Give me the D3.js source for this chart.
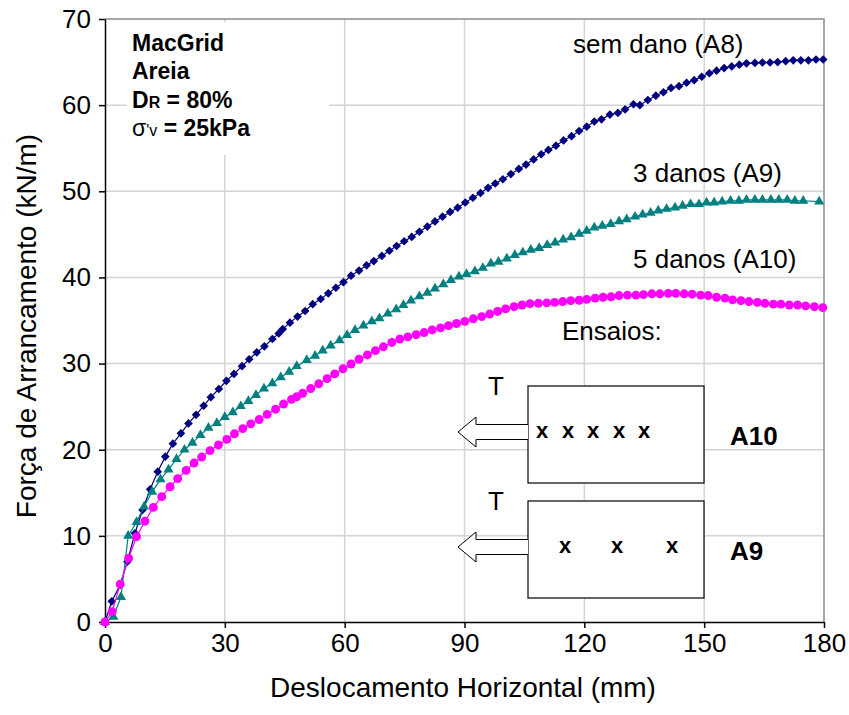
<!DOCTYPE html>
<html>
<head>
<meta charset="utf-8">
<script src="https://cdn.jsdelivr.net/npm/d3@7"></script>
<style>
  body { margin: 0; background: #fff; }
  svg { font-family: "Liberation Sans", Arial, sans-serif; }
</style>
</head>
<body>
<script>
// eixos
const xTicks = [0, 30, 60, 90, 120, 150, 180];
const yTicks = [0, 10, 20, 30, 40, 50, 60, 70];

// [deslocamento (mm), forca (kN/m)]
const semDano = [[0,0],[1.7,2.4],[3.8,4.3],[5.6,7.0],[7.5,10.3],[9.4,13.0],[11.3,15.4],[13.2,17.45],[15.1,19.2],[17.0,20.7],
  [19.0,21.9],[20.9,23.05],[22.8,24.05],[24.7,25.1],[26.5,26.1],[28.5,27.05],[30.4,28.0],[32.3,28.8],[34.3,29.7],[36.1,30.5],
  [38.0,31.3],[39.9,32.0],[41.9,32.85],[43.5,33.5],[44.5,34.0],[46.3,34.75],[48.2,35.45],[50.1,36.1],[52.0,36.9],[54.0,37.5],
  [55.9,38.15],[57.8,38.8],[59.7,39.45],[61.6,40.2],[63.6,40.8],[65.5,41.4],[67.3,41.9],[69.3,42.5],[71.2,43.1],[73.0,43.65],
  [74.9,44.2],[76.8,44.7],[78.7,45.3],[80.7,45.9],[82.6,46.5],[84.5,47.05],[86.4,47.6],[88.3,48.1],[90.2,48.7],[92.1,49.25],
  [94.0,49.8],[95.9,50.4],[97.7,50.9],[99.6,51.4],[101.6,52.0],[103.6,52.6],[105.4,53.1],[107.3,53.7],[109.2,54.3],[111.0,54.8],
  [112.9,55.3],[114.8,55.9],[116.8,56.4],[118.7,57.0],[120.6,57.5],[122.5,58.1],[124.3,58.35],[126.4,58.9],[128.4,59.1],[130.2,59.5],
  [132.3,60.1],[133.9,60.0],[135.9,60.6],[137.9,61.1],[139.8,61.5],[141.7,62.0],[143.7,62.2],[145.6,62.6],[147.5,62.9],[149.4,63.3],
  [151.3,63.7],[153.1,64.0],[155.0,64.3],[156.9,64.5],[158.8,64.7],[160.6,64.85],[162.7,64.9],[164.6,64.95],[166.5,64.95],[168.4,65.0],
  [170.4,65.1],[172.3,65.2],[174.2,65.2],[176.1,65.2],[178.0,65.3],[179.8,65.3]];

const tresDanos = [[0,0],[2.1,0.6],[4.0,2.9],[5.8,10.0],[7.9,11.6],[9.8,13.4],[11.8,15.1],[13.9,16.55],[15.9,17.7],[17.9,18.9],
  [19.9,20.0],[21.9,20.8],[23.9,21.7],[25.9,22.55],[28.0,23.1],[30.0,23.8],[32.0,24.35],[34.0,25.05],[35.9,25.65],[37.8,26.35],
  [39.8,27.1],[41.9,27.7],[44.0,28.4],[46.1,29.05],[48.0,29.7],[50.5,30.4],[52.6,30.9],[54.5,31.5],[56.5,32.1],[58.7,32.7],
  [60.6,33.3],[62.6,33.9],[64.7,34.4],[66.8,34.9],[68.7,35.25],[70.8,35.8],[72.9,36.3],[74.7,36.8],[76.6,37.3],[78.7,37.8],
  [80.7,38.2],[82.6,38.7],[84.7,39.2],[86.6,39.7],[88.6,40.1],[90.5,40.4],[92.6,40.7],[94.6,41.1],[96.6,41.6],[98.5,41.8],
  [100.6,42.2],[102.6,42.6],[104.6,42.9],[106.6,43.2],[108.7,43.4],[110.7,43.75],[112.7,44.05],[114.7,44.4],[116.7,44.65],[118.7,45.05],
  [120.6,45.4],[122.5,45.8],[124.5,46.0],[126.6,46.2],[128.7,46.5],[130.6,46.75],[132.7,47.05],[134.6,47.3],[136.6,47.5],[138.5,47.75],
  [140.6,47.95],[142.7,48.1],[144.6,48.3],[146.6,48.5],[148.7,48.5],[150.6,48.7],[152.5,48.7],[154.5,48.8],[156.6,48.9],[158.7,48.9],
  [160.6,49.0],[162.7,49.0],[164.6,49.0],[166.7,49.0],[168.7,49.0],[170.8,49.0],[172.7,48.9],[174.8,48.9],[178.8,48.8]];

const cincoDanos = [[0,0],[1.8,1.2],[3.8,4.4],[5.9,7.4],[7.9,9.9],[10.0,11.7],[12.1,13.3],[14.2,14.55],[16.3,15.7],[18.2,16.65],
  [20.3,17.6],[22.3,18.45],[24.2,19.15],[26.3,19.9],[28.4,20.55],[30.5,21.2],[32.4,21.85],[34.5,22.45],[36.5,23.0],[38.6,23.5],
  [40.6,24.1],[42.7,24.7],[44.7,25.3],[46.7,25.85],[48.0,26.15],[49.5,26.55],[51.5,27.1],[53.5,27.65],[55.6,28.25],[57.5,28.8],
  [59.6,29.4],[61.6,29.95],[63.6,30.5],[65.7,31.0],[67.7,31.5],[69.7,31.95],[71.8,32.45],[73.8,32.85],[75.8,33.1],[77.9,33.35],
  [79.9,33.6],[81.9,33.9],[84.0,34.15],[86.0,34.4],[88.0,34.65],[90.1,34.9],[92.2,35.2],[94.3,35.45],[96.3,35.75],[98.3,36.05],
  [100.3,36.35],[102.4,36.6],[104.4,36.8],[106.4,36.95],[108.5,37.0],[110.6,37.05],[112.6,37.1],[114.6,37.2],[116.6,37.3],[118.7,37.35],
  [120.6,37.45],[122.7,37.6],[124.7,37.7],[126.7,37.75],[128.7,37.9],[130.8,37.95],[132.9,37.95],[134.8,38.0],[136.9,38.1],[138.9,38.1],
  [141.0,38.15],[142.9,38.15],[145.0,38.1],[147.0,38.05],[149.1,37.95],[151.0,37.9],[153.1,37.7],[155.2,37.6],[157.1,37.4],[159.2,37.3],
  [161.2,37.2],[163.3,37.1],[165.2,37.0],[167.3,36.9],[169.2,36.9],[171.3,36.8],[173.4,36.8],[175.4,36.7],[177.6,36.6],[179.7,36.5]];

const W = 849, H = 715;
const plot = { left: 105, right: 824, top: 19, bottom: 622 };

const svg = d3.select("body").append("svg")
    .attr("width", W)
    .attr("height", H);

const xScale = d3.scaleLinear().domain([0, 180]).range([plot.left, plot.right]);
const yScale = d3.scaleLinear().domain([0, 70]).range([plot.bottom, plot.top]);

// grade
svg.append("g").selectAll("line")
    .data(xTicks.slice(1, -1))
    .join("line")
    .attr("x1", d => xScale(d)).attr("x2", d => xScale(d))
    .attr("y1", plot.top).attr("y2", plot.bottom)
    .attr("stroke", "#d4d4d4").attr("stroke-width", 1.5);
svg.append("g").selectAll("line")
    .data(yTicks.slice(1, -1))
    .join("line")
    .attr("x1", plot.left).attr("x2", plot.right)
    .attr("y1", d => yScale(d)).attr("y2", d => yScale(d))
    .attr("stroke", "#d4d4d4").attr("stroke-width", 1.5);

// borda superior / direita
svg.append("path")
    .attr("d", `M${plot.left},${plot.top}H${plot.right}V${plot.bottom}`)
    .attr("fill", "none")
    .attr("stroke", "#8c8c8c")
    .attr("stroke-width", 1.5);

// caixa de texto (fundo branco por cima da grade)
svg.append("rect")
    .attr("x", 127).attr("y", 22)
    .attr("width", 202).attr("height", 133)
    .attr("fill", "#fff");

// eixos
const xAxis = d3.axisBottom(xScale).tickValues(xTicks).tickSize(6).tickSizeOuter(0).tickPadding(6);
const yAxis = d3.axisLeft(yScale).tickValues(yTicks).tickSize(6).tickSizeOuter(0).tickPadding(8);

const gx = svg.append("g")
    .attr("transform", "translate(0," + plot.bottom + ")")
    .call(xAxis);
const gy = svg.append("g")
    .attr("transform", "translate(" + plot.left + ",0)")
    .call(yAxis);

[gx, gy].forEach(g => {
    g.select(".domain").attr("stroke", "#000").attr("stroke-width", 1.5);
    g.selectAll(".tick line").attr("stroke", "#000").attr("stroke-width", 1.5);
    g.selectAll(".tick text")
        .attr("fill", "#000")
        .attr("font-size", "26px")
        .attr("font-family", "Liberation Sans, Arial, sans-serif");
});

// titulos dos eixos
svg.append("text")
    .attr("x", 463).attr("y", 697)
    .attr("text-anchor", "middle")
    .attr("font-size", "28px")
    .text("Deslocamento Horizontal (mm)");
svg.append("text")
    .attr("transform", "translate(36,326) rotate(-90)")
    .attr("text-anchor", "middle")
    .attr("font-size", "28px")
    .text("Força de Arrancamento (kN/m)");

// series
const line = d3.line().x(d => xScale(d[0])).y(d => yScale(d[1]));

function drawSeries(data, color, shape, size) {
    svg.append("path")
        .datum(data)
        .attr("d", line)
        .attr("fill", "none")
        .attr("stroke", color)
        .attr("stroke-width", 1.2);
    svg.append("g").selectAll("path")
        .data(data)
        .join("path")
        .attr("transform", d => "translate(" + xScale(d[0]) + "," + yScale(d[1]) + ")")
        .attr("d", d3.symbol().type(shape).size(size))
        .attr("fill", color);
}

drawSeries(semDano, "#000080", d3.symbolDiamond2, 48);
drawSeries(tresDanos, "#008080", d3.symbolTriangle, 44);
drawSeries(cincoDanos, "#ff00ff", d3.symbolCircle, 62);

// rotulos das curvas
const labels = [
    { text: "sem dano (A8)", x: 573, y: 53 },
    { text: "3 danos (A9)", x: 633, y: 182 },
    { text: "5 danos (A10)", x: 633, y: 268 },
    { text: "Ensaios:", x: 562, y: 340 }
];
svg.append("g").selectAll("text")
    .data(labels)
    .join("text")
    .attr("x", d => d.x).attr("y", d => d.y)
    .attr("font-size", "26px")
    .text(d => d.text);

// caixa de informacoes
const info = svg.append("g").attr("font-size", "23px").attr("font-weight", "bold");
info.append("text").attr("x", 132).attr("y", 51).text("MacGrid");
info.append("text").attr("x", 132).attr("y", 79).text("Areia");
const dr = info.append("text").attr("x", 132).attr("y", 108);
dr.append("tspan").text("D");
dr.append("tspan").attr("font-size", "16px").text("R");
dr.append("tspan").text(" = 80%");
const sv = info.append("text").attr("x", 132).attr("y", 136);
sv.append("tspan").attr("font-weight", "normal").text("σ");
sv.append("tspan").attr("font-weight", "normal").attr("font-size", "16px").text("'v");
sv.append("tspan").text(" = 25kPa");

// esquema dos ensaios
const boxes = [
    { y: 386, label: "A10", marks: [542, 568, 593, 619, 644] },
    { y: 501, label: "A9", marks: [565, 617, 672] }
];
boxes.forEach(b => {
    const g = svg.append("g");
    g.append("rect")
        .attr("x", 528).attr("y", b.y)
        .attr("width", 176).attr("height", 97)
        .attr("fill", "#fff").attr("stroke", "#000").attr("stroke-width", 1.2);
    const cy = b.y + 46;
    g.append("path")
        .attr("d", `M528,${cy - 7.5}H476V${cy - 15}L458,${cy}L476,${cy + 15}V${cy + 7.5}H528`)
        .attr("fill", "#fff").attr("stroke", "#000").attr("stroke-width", 1);
    g.append("text")
        .attr("x", 496).attr("y", b.y + 9)
        .attr("text-anchor", "middle")
        .attr("font-size", "26px")
        .text("T");
    g.selectAll(".mk")
        .data(b.marks)
        .join("text")
        .attr("x", d => d).attr("y", b.y + 52)
        .attr("text-anchor", "middle")
        .attr("font-size", "22px").attr("font-weight", "bold")
        .text("x");
    g.append("text")
        .attr("x", 730).attr("y", b.y + 59)
        .attr("font-size", "26px").attr("font-weight", "bold")
        .text(b.label);
});
</script>
</body>
</html>
